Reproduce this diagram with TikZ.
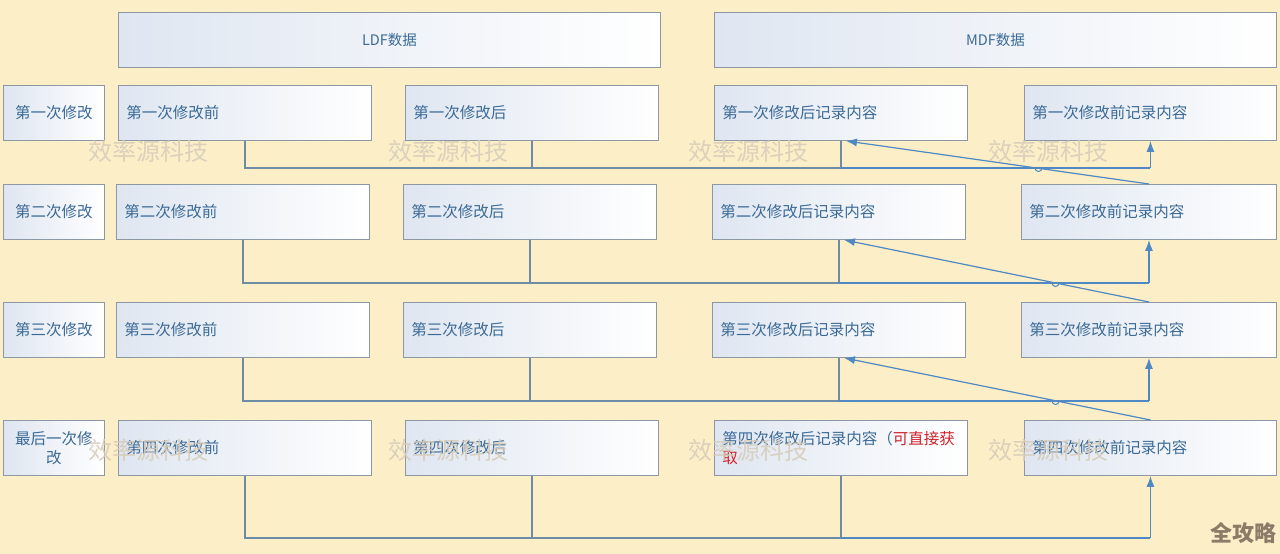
\documentclass[tikz,border=0pt]{standalone}
\usepackage{fontspec}
\setmainfont{Noto Sans CJK SC}
\usetikzlibrary{arrows.meta}
\definecolor{bg}{HTML}{FCEFC8}
\definecolor{boxL}{HTML}{DFE6F1}
\definecolor{boxedge}{HTML}{8D98A5}
\definecolor{txt}{HTML}{3B6A96}
\definecolor{conn}{HTML}{6E8CA8}
\definecolor{arrc}{HTML}{4F88C2}
\definecolor{wm}{HTML}{D6CBB9}
\definecolor{wm2}{HTML}{8C7B68}
\definecolor{red1}{HTML}{D0202A}
\tikzset{
  bx/.style={draw=boxedge, line width=0.9pt, left color=boxL, middle color=boxL!35!white, right color=white,
    anchor=north west, minimum height=55pt, inner xsep=8pt, inner ysep=0pt,
    text width=#1, align=left, font=\fontsize{15.5}{19}\selectfont, text=txt},
  lbl/.style={bx=#1, align=center},
  hdr/.style={bx=#1, align=center, font=\fontsize{14.5}{17}\selectfont},
  cn/.style={draw=conn, line width=1.2pt},
  ar/.style={draw=arrc, line width=1.2pt, -{Latex[length=11pt,width=8pt]}},
  wmk/.style={font=\fontsize{24}{24}\selectfont, text=wm, opacity=0.85}
}
\begin{document}
\begin{tikzpicture}[x=1pt,y=-1pt]
\useasboundingbox (0,0) rectangle (1280,554);
\fill[bg] (0,0) rectangle (1280,554);
% headers
\node[hdr=526pt] (ldf) at (118,12) {LDF数据};
\node[hdr=546pt] (mdf) at (714,12) {MDF数据};
% row 1
\node[lbl=85pt] (l1) at (3,85) {第一次修改};
\node[bx=237pt] (a1) at (118,85) {第一次修改前};
\node[bx=237pt] (b1) at (405,85) {第一次修改后};
\node[bx=237pt] (c1) at (714,85) {第一次修改后记录内容};
\node[bx=236pt] (d1) at (1024,85) {第一次修改前记录内容};
% row 2
\node[lbl=85pt] (l2) at (3,184) {第二次修改};
\node[bx=237pt] (a2) at (116,184) {第二次修改前};
\node[bx=237pt] (b2) at (403,184) {第二次修改后};
\node[bx=237pt] (c2) at (712,184) {第二次修改后记录内容};
\node[bx=239pt] (d2) at (1021,184) {第二次修改前记录内容};
% row 3
\node[lbl=85pt] (l3) at (3,302) {第三次修改};
\node[bx=237pt] (a3) at (116,302) {第三次修改前};
\node[bx=237pt] (b3) at (403,302) {第三次修改后};
\node[bx=237pt] (c3) at (712,302) {第三次修改后记录内容};
\node[bx=239pt] (d3) at (1021,302) {第三次修改前记录内容};
% row 4
\node[lbl=85pt] (l4) at (3,420) {最后一次修\\改};
\node[bx=237pt] (a4) at (118,420) {第四次修改前};
\node[bx=237pt] (b4) at (405,420) {第四次修改后};
\node[bx=237pt] (c4) at (714,420) {第四次修改后记录内容（\textcolor{red1}{可直接获}\\\textcolor{red1}{取}};
\node[bx=236pt] (d4) at (1024,420) {第四次修改前记录内容};
% horizontal levels
\coordinate (h1) at (0,168);
\coordinate (h2) at (0,283);
\coordinate (h3) at (0,401);
\coordinate (h4) at (0,538);
% connectors per row
\foreach \r in {1,2,3,4}{
  \draw[cn] (a\r.south) -- (a\r.south |- h\r) -- (c\r.south |- h\r);
  \draw[cn] (b\r.south) -- (b\r.south |- h\r);
  \draw[cn] (c\r.south) -- (c\r.south |- h\r);
  \draw[arrc, line width=1.2pt] (c\r.south |- h\r) -- (d\r.south |- h\r);
  \draw[ar] (d\r.south |- h\r) -- (d\r.south);
}
% diagonal arrows
\draw[ar] (d2.north) -- ([xshift=5pt]c1.south);
\draw[ar] (d3.north) -- ([xshift=5pt]c2.south);
\draw[ar] (d4.north) -- ([xshift=5pt]c3.south);
% line hops
\draw[arrc, line width=1pt] (1035,168) arc (180:0:3.5);
\draw[arrc, line width=1pt] (1052,283) arc (180:0:3.5);
\draw[arrc, line width=1pt] (1052,401) arc (180:0:3.5);
% watermarks
\foreach \x in {148,448,748,1048}{
  \node[wmk] (w\x a) at (\x,151) {效率源科技};
  \node[wmk] (w\x b) at (\x,450) {效率源科技};
}
\node[font=\fontsize{22}{22}\selectfont\bfseries, text=wm2] (qgl) at (1243,533) {全攻略};
\end{tikzpicture}
\end{document}
